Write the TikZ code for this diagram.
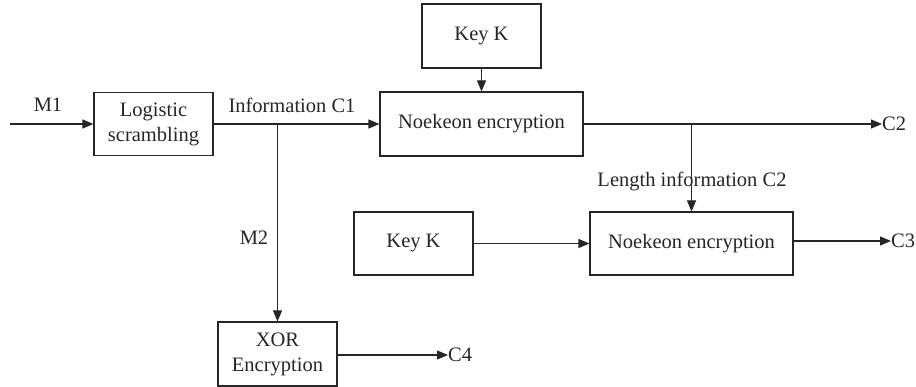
\documentclass[tikz,border=0pt]{standalone}
\usepackage{fontspec}
\setmainfont{Liberation Serif}
\usetikzlibrary{arrows.meta}
\tikzset{
  blk/.style={draw=black!85, line width=1.1pt, rectangle, inner sep=0pt, align=center,
    font=\fontsize{20.5}{25}\selectfont, text=black!85},
  lbl/.style={inner sep=0pt, font=\fontsize{20.5}{25}\selectfont, text=black!85},
  conn/.style={draw=black!85, line width=1.1pt},
  arr/.style={conn, -{Triangle[length=11pt,width=9pt]}}
}
\begin{document}
\begin{tikzpicture}[x=1pt,y=-1pt]
\useasboundingbox (0,0) rectangle (916,387);
% blocks
\node[blk, minimum width=119pt, minimum height=63pt] (logi) at (153.5,124) {Logistic\\scrambling};
\node[blk, minimum width=203pt, minimum height=64pt] (noek1) at (481.5,124) {Noekeon encryption};
\node[blk, minimum width=119pt, minimum height=64pt] (key1) at (481.5,36) {Key K};
\node[blk, minimum width=119pt, minimum height=63pt] (key2) at (413.5,243.5) {Key K};
\node[blk, minimum width=203pt, minimum height=63pt] (noek2) at (691.5,243.5) {Noekeon encryption};
\node[blk, minimum width=119pt, minimum height=64pt] (xor) at (277.5,354) {XOR\\Encryption};
% terminals
\coordinate (m1) at (10,124);
\node[lbl, anchor=west] (c2) at (882,124) {C2};
\node[lbl, anchor=west] (c3) at (891,241) {C3};
\node[lbl, anchor=west] (c4) at (448,355) {C4};
\coordinate (b1) at (277.5,124);
\coordinate (b2) at (691.5,124);
% connectors
\draw[arr] (m1) -- (logi);
\draw[arr] (logi) -- (noek1);
\draw[arr] (key1) -- (noek1);
\draw[arr] (noek1) -- (c2);
\draw[arr] (b1) -- (xor);
\draw[arr] (b2) -- (noek2);
\draw[arr] (key2) -- (noek2);
\draw[arr] (noek2.east |- c3) -- (c3);
\draw[arr] (xor.east |- c4) -- (c4);
% labels
\node[lbl] (lm1) at (48,105) {M1};
\node[lbl] (lc1) at (292,105) {Information C1};
\node[lbl] (lm2) at (254,238) {M2};
\node[lbl] (llen) at (692,181) {Length information C2};
\end{tikzpicture}
\end{document}
